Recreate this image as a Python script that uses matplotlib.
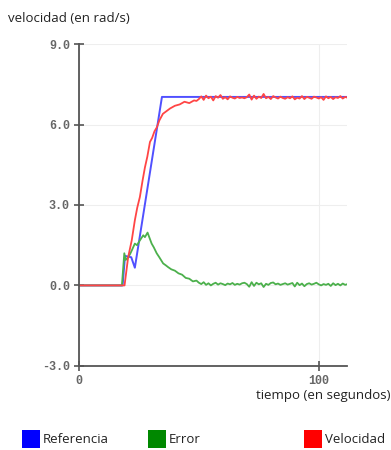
"""Velocidad, referencia y error de un motor
"""

import numpy as np
import matplotlib
matplotlib.use("Agg")
import matplotlib.pyplot as plt
from matplotlib.patches import Rectangle

# Referencia (azul)
ref_t = [0, 18.2, 19.2, 21.8, 23.3, 34.6, 112]
ref_v = [0, 0, 1.1, 1.05, 0.66, 7.03, 7.03]

# Error (verde): transitorio + cola con ruido desde t=50
err_t = [0, 17.9, 18.9, 19.5, 20.5, 21.2, 22, 23.3, 24.2, 25.4, 26.8, 27.5, 28.6, 29.3, 30.3,
         31.2, 32.4, 33.5, 35.1, 36.2, 37.2, 38.5, 40, 41.5, 43, 44.5, 46, 47.5, 49]
err_v = [0, 0, 1.2, 0.95, 1.05, 1.15, 1.3, 1.56, 1.5, 1.68, 1.87, 1.8, 1.97, 1.8, 1.56,
         1.42, 1.2, 1.05, 0.82, 0.75, 0.68, 0.6, 0.55, 0.45, 0.4, 0.28, 0.25, 0.15, 0.18]
err_tail = [0.10, 0.05, 0.12, 0.02, 0.08, 0.00, 0.06, 0.10, 0.03, 0.08, 0.05, 0.01, 0.07,
            0.04, 0.09, 0.02, 0.06, 0.03, 0.08, 0.10, 0.05, -0.05, 0.12, -0.02, 0.10, 0.04,
            0.08, -0.06, 0.06, 0.02, 0.09, 0.11, 0.04, 0.07, 0.02, 0.05, 0.08, 0.03, 0.06,
            0.09, -0.04, 0.10, 0.01, 0.07, -0.03, 0.05, 0.08, 0.03, 0.06, 0.10, 0.04, 0.00,
            0.05, 0.02, 0.06, -0.02, 0.08, 0.01, 0.06, 0.00, 0.07, 0.02, 0.05]

# Velocidad (rojo)
vel_t = [0, 19.0, 20.5, 22, 23.3, 24.3, 25.4, 26.5, 27.5, 28.5, 29.6, 30.5, 31.5, 32.5,
         33.5, 35, 36.5, 38, 40, 42, 44, 46, 48, 49]
vel_v = [0, 0, 1.05, 1.68, 2.43, 2.9, 3.3, 3.9, 4.4, 4.8, 5.35, 5.5, 5.75, 5.9,
         6.15, 6.4, 6.5, 6.6, 6.7, 6.75, 6.85, 6.8, 6.9, 6.88]
vel_tail = [6.95, 7.05, 6.92, 7.08, 6.98, 7.04, 6.90, 7.06, 7.00, 7.10, 6.96, 7.02, 6.94,
            7.05, 7.00, 6.97, 7.03, 6.99, 7.01, 6.98, 7.02, 7.12, 6.93, 7.08, 6.96, 7.04,
            6.99, 7.14, 6.98, 7.03, 6.95, 7.06, 7.01, 6.97, 7.04, 6.99, 6.96, 7.02, 6.98,
            7.05, 6.94, 7.00, 6.97, 7.06, 6.95, 7.03, 7.00, 6.96, 7.04, 7.01, 6.97, 7.02,
            6.92, 7.05, 6.98, 7.03, 6.95, 7.02, 6.99, 7.06, 6.97, 7.03, 7.00]
tail_start = 50

y_ticks = [-3.0, 0.0, 3.0, 6.0, 9.0]
x_ticks = [0, 100]

err_x = err_t + list(np.arange(tail_start, tail_start + len(err_tail)))
err_y = err_v + err_tail
vel_x = vel_t + list(np.arange(tail_start, tail_start + len(vel_tail)))
vel_y = vel_v + vel_tail

fig = plt.figure(figsize=(3.91, 4.5), dpi=100)
ax = fig.add_axes([0.202, 0.187, 0.685, 0.715])

ax.plot(ref_t, ref_v, color="#5050ff", lw=1.4)
ax.plot(err_x, err_y, color="#4cb04c", lw=1.3)
ax.plot(vel_x, vel_y, color="#ff4545", lw=1.3)

ax.set_xlim(0, 111.7)
ax.set_ylim(-3, 9)
ax.set_yticks(y_ticks)
ax.set_yticklabels([f"{v:.1f}" for v in y_ticks])
ax.set_xticks(x_ticks)
ax.grid(True, color="#eeeeee", lw=0.8)
ax.set_axisbelow(True)

for s in ["top", "right"]:
    ax.spines[s].set_visible(False)
for s in ["left", "bottom"]:
    ax.spines[s].set_color("#555555")
    ax.spines[s].set_linewidth(1.3)

ax.tick_params(direction="inout", length=7, width=1.2, color="#555555",
               labelcolor="#666666", labelsize=8.5, pad=3)
for lab in ax.get_xticklabels() + ax.get_yticklabels():
    lab.set_fontfamily("Liberation Mono")
    lab.set_fontweight("bold")

fig.text(0.02, 0.96, "velocidad (en rad/s)", fontsize=9.5, family="Open Sans",
         color="#222222", va="center")
fig.text(0.998, 0.122, "tiempo (en segundos)", fontsize=9.5, family="Open Sans",
         color="#222222", va="center", ha="right")

# leyenda
legend = [("Referencia", "#0000ff", 0.056), ("Error", "#008800", 0.378), ("Velocidad", "#ff0000", 0.777)]
for name, col, x0 in legend:
    fig.patches.append(Rectangle((x0, 0.0045), 0.046, 0.04, transform=fig.transFigure,
                                 facecolor=col, edgecolor="none"))
    fig.text(x0 + 0.054, 0.023, name, fontsize=9.5, family="Open Sans",
             color="#222222", va="center")

fig.savefig("out.png", dpi=100)
